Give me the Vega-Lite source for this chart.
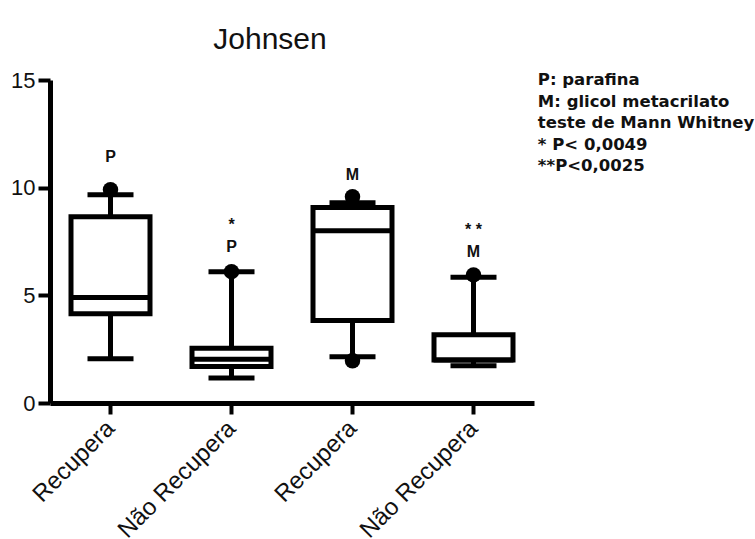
{
  "$schema": "https://vega.github.io/schema/vega-lite/v6.json",
  "autosize": {"type": "none"},
  "padding": {"left": 50, "top": 80, "right": 221, "bottom": 136},
  "width": 484,
  "height": 323,
  "background": "white",
  "title": {
    "text": "Johnsen",
    "font": "Liberation Sans",
    "fontSize": 30,
    "fontWeight": "normal",
    "color": "#111111",
    "anchor": "middle",
    "frame": "group",
    "dx": -22,
    "offset": 14
  },
  "datasets": {
    "boxes": [
      {"grp": "P|Recupera", "lo": 2.05, "q1": 4.14, "med": 4.9, "q3": 8.65, "hi": 9.67},
      {"grp": "P|Não Recupera", "lo": 1.16, "q1": 1.7, "med": 2.03, "q3": 2.54, "hi": 6.09},
      {"grp": "M|Recupera", "lo": 2.15, "q1": 3.83, "med": 8.0, "q3": 9.08, "hi": 9.3},
      {"grp": "M|Não Recupera", "lo": 1.73, "q1": 2.0, "med": 2.0, "q3": 3.17, "hi": 5.84}
    ],
    "dots": [
      {"grp": "P|Recupera", "v": 9.9},
      {"grp": "P|Não Recupera", "v": 6.1},
      {"grp": "M|Recupera", "v": 9.58},
      {"grp": "M|Recupera", "v": 1.96},
      {"grp": "M|Não Recupera", "v": 5.95}
    ],
    "notes": [
      {"grp": "P|Recupera", "label": "P", "v": 11.43},
      {"grp": "P|Não Recupera", "label": "*", "v": 8.27},
      {"grp": "P|Não Recupera", "label": "P", "v": 7.25},
      {"grp": "M|Recupera", "label": "M", "v": 10.6},
      {"grp": "M|Não Recupera", "label": "* *", "v": 8.04},
      {"grp": "M|Não Recupera", "label": "M", "v": 7.0}
    ],
    "legend": [
      {"line": 15, "text": "P: parafina"},
      {"line": 14, "text": "M: glicol metacrilato"},
      {"line": 13, "text": "teste de Mann Whitney"},
      {"line": 12, "text": "* P< 0,0049"},
      {"line": 11, "text": "**P<0,0025"}
    ]
  },
  "layer": [
    {
      "encoding": {
        "x": {
          "field": "grp",
          "type": "nominal",
          "sort": ["P|Recupera", "P|Não Recupera", "M|Recupera", "M|Não Recupera"],
          "scale": {"paddingInner": 0, "paddingOuter": 0},
          "title": null,
          "axis": {
            "labelExpr": "split(datum.label, '|')[1]",
            "labelAngle": -45,
            "labelFont": "Liberation Sans",
            "labelFontSize": 24,
            "labelColor": "#111111",
            "labelPadding": 2,
            "labelOffset": -8,
            "domainColor": "black",
            "domainWidth": 5,
            "tickColor": "black",
            "tickWidth": 4,
            "tickSize": 11,
            "grid": false
          }
        }
      },
      "layer": [
        {
          "data": {"name": "boxes"},
          "mark": {"type": "rule", "color": "black", "strokeWidth": 5},
          "encoding": {
            "y": {
              "field": "lo",
              "type": "quantitative",
              "scale": {"domain": [0, 15], "nice": false, "zero": true},
              "title": null,
              "axis": {
                "values": [0, 5, 10, 15],
                "labelFont": "Liberation Sans",
                "labelFontSize": 22,
                "labelColor": "#111111",
                "labelPadding": 3,
                "domainColor": "black",
                "domainWidth": 5,
                "tickColor": "black",
                "tickWidth": 4,
                "tickSize": 12,
                "grid": false
              }
            },
            "y2": {"field": "hi"}
          }
        },
        {
          "data": {"name": "boxes"},
          "mark": {"type": "bar", "fill": "white", "stroke": "black", "strokeWidth": 5, "size": 79},
          "encoding": {
            "y": {"field": "q1", "type": "quantitative"},
            "y2": {"field": "q3"}
          }
        },
        {
          "data": {"name": "boxes"},
          "mark": {"type": "tick", "color": "black", "size": 80, "thickness": 5, "opacity": 1},
          "encoding": {"y": {"field": "med", "type": "quantitative"}}
        },
        {
          "data": {"name": "boxes"},
          "mark": {"type": "tick", "color": "black", "size": 46, "thickness": 5, "opacity": 1},
          "encoding": {"y": {"field": "lo", "type": "quantitative"}}
        },
        {
          "data": {"name": "boxes"},
          "mark": {"type": "tick", "color": "black", "size": 46, "thickness": 5, "opacity": 1},
          "encoding": {"y": {"field": "hi", "type": "quantitative"}}
        },
        {
          "data": {"name": "dots"},
          "mark": {"type": "point", "filled": true, "color": "black", "size": 240, "opacity": 1},
          "encoding": {"y": {"field": "v", "type": "quantitative"}}
        },
        {
          "data": {"name": "notes"},
          "mark": {"type": "text", "font": "Liberation Sans", "fontWeight": "bold", "fontSize": 16, "color": "#111111", "baseline": "middle"},
          "encoding": {
            "y": {"field": "v", "type": "quantitative"},
            "text": {"field": "label"}
          }
        }
      ]
    },
    {
      "data": {"name": "legend"},
      "mark": {"type": "text", "font": "DejaVu Sans", "fontWeight": "bold", "fontSize": 16.5, "color": "#111111", "align": "left", "baseline": "middle"},
      "encoding": {
        "x": {"datum": 1.008, "type": "quantitative", "scale": {"domain": [0, 1]}, "axis": null},
        "y": {"field": "line", "type": "quantitative"},
        "text": {"field": "text"}
      }
    }
  ],
  "resolve": {"scale": {"x": "independent"}},
  "config": {"view": {"stroke": null}}
}
